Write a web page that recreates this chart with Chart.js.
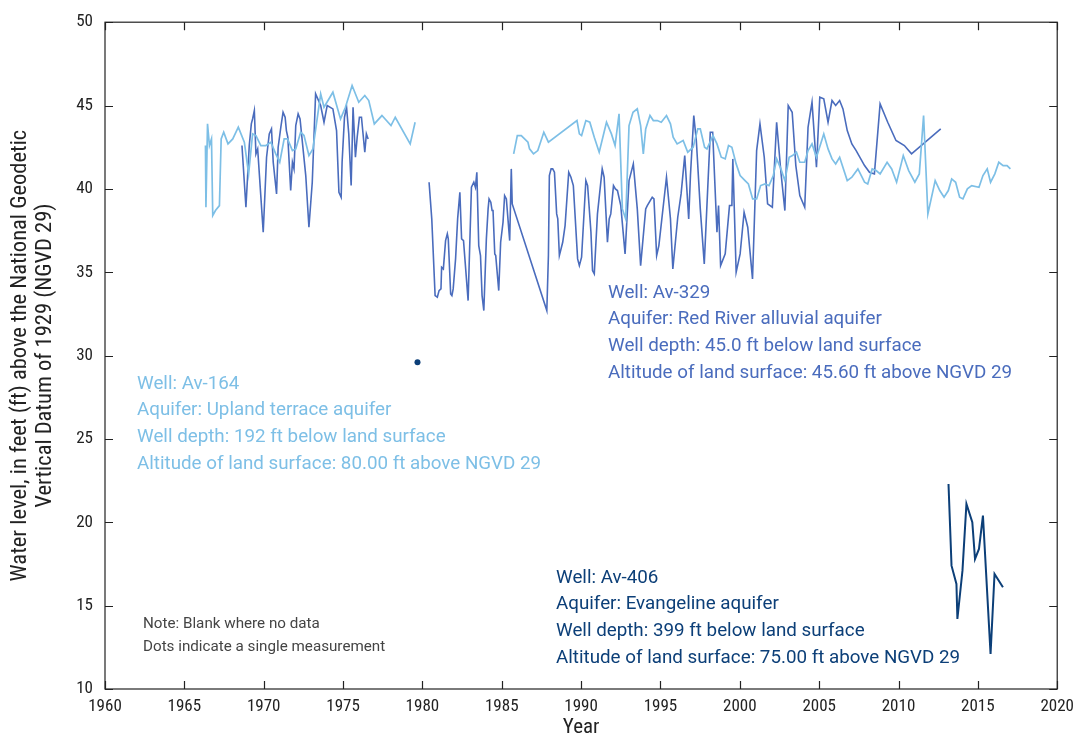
<!DOCTYPE html>
<html>
<head>
<meta charset="utf-8">
<script src="https://cdn.jsdelivr.net/npm/chart.js@4.4.1/dist/chart.umd.min.js"></script>
<style>
  html, body { margin: 0; padding: 0; background: #fff; }
  #wrap { width: 1082px; height: 740px; }
</style>
</head>
<body>
<div id="wrap"><canvas id="myChart" width="1082" height="740"></canvas></div>
<script>
// Well Av-164 (Upland terrace aquifer), null = gap in record
const av164Years = [
  1966.33, 1966.36, 1966.46, 1966.58, 1966.71, 1966.79, 1966.96, 1967.21, 1967.32, 1967.48,
  1967.75, 1968.05, 1968.40, 1968.78, 1969.05, 1969.30, 1969.51, 1969.82, 1970.14, 1970.45,
  1970.76, 1971.01, 1971.29, 1971.50, 1971.81, 1972.02, 1972.33, 1972.54, 1972.85, 1973.10,
  1973.59, 1973.80, 1974.36, 1974.84, 1975.15, 1975.57, 1975.99, 1976.37, 1976.62, 1976.97,
  1977.45, 1978.02, 1978.29, 1979.23, 1979.54,
  1982.0,
  1985.75, 1985.98, 1986.23, 1986.65, 1986.75, 1987.00, 1987.27, 1987.65, 1987.94, 1989.74,
  1989.89, 1990.03, 1990.30, 1990.55, 1990.83, 1991.14, 1991.60, 1991.91, 1992.14, 1992.39,
  1992.60, 1992.81, 1993.02, 1993.27, 1993.54, 1993.75, 1993.92, 1994.07, 1994.34, 1994.55,
  1994.80, 1995.05, 1995.38, 1995.63, 1995.80, 1996.05, 1996.43, 1996.72, 1997.06, 1997.35,
  1997.51, 1997.78, 1997.93, 1998.31, 1998.56, 1998.83, 1999.08, 1999.29, 1999.50, 1999.77,
  2000.02, 2000.33, 2000.54, 2000.81, 2001.06, 2001.31, 2001.59, 2001.84, 2002.11, 2002.32,
  2002.59, 2002.84, 2003.11, 2003.32, 2003.57, 2003.78, 2004.09, 2004.30, 2004.55, 2004.83,
  2005.29, 2005.56, 2005.81, 2006.04, 2006.29, 2006.77, 2007.06, 2007.44, 2007.86, 2008.06,
  2008.34, 2008.59, 2008.84, 2009.28, 2009.57, 2009.88, 2010.30, 2010.64, 2011.03, 2011.31,
  2011.58, 2011.85, 2012.31, 2012.60, 2012.87, 2013.14, 2013.35, 2013.60, 2013.85, 2014.06,
  2014.34, 2014.61, 2015.07, 2015.32, 2015.59, 2015.80, 2016.07, 2016.32, 2016.59, 2016.84,
  2017.05
];
const av164Levels = [
  42.6, 38.9, 43.9, 42.6, 43.0, 38.4, 38.7, 39.0, 43.0, 43.4,
  42.7, 43.0, 43.7, 42.8, 40.9, 43.3, 43.2, 42.6, 42.6, 42.8,
  42.1, 41.6, 43.0, 43.0, 42.3, 42.4, 43.4, 43.2, 42.0, 42.4,
  45.7, 44.9, 45.8, 44.2, 44.9, 46.2, 45.2, 45.6, 45.3, 43.9,
  44.4, 43.8, 44.3, 42.7, 44.0,
  null,
  42.1, 43.2, 43.2, 42.8, 42.4, 42.1, 42.3, 43.4, 42.8, 44.1,
  43.3, 43.2, 44.1, 44.0, 43.1, 42.2, 44.0, 43.3, 42.6, 44.5,
  38.8, 38.2, 43.8, 44.6, 44.8, 43.8, 42.1, 43.6, 44.4, 44.1,
  44.1, 44.0, 44.4, 43.9, 43.1, 42.7, 42.9, 42.2, 42.5, 43.6,
  43.6, 42.5, 42.4, 43.2, 42.7, 41.9, 41.8, 42.6, 42.5, 41.5,
  40.8, 40.5, 40.3, 39.4, 39.4, 40.2, 40.3, 40.2, 40.8, 41.8,
  41.2, 40.5, 41.9, 42.0, 42.2, 41.6, 41.6, 42.3, 42.7, 41.9,
  43.3, 42.4, 41.8, 41.5, 41.9, 40.5, 40.7, 41.2, 40.4, 40.3,
  41.2, 41.1, 40.9, 41.6, 41.2, 40.4, 42.0, 41.1, 40.4, 40.9,
  44.4, 38.5, 40.5, 39.9, 39.5, 39.9, 40.6, 40.4, 39.5, 39.4,
  40.0, 40.2, 40.1, 40.8, 41.2, 40.4, 40.9, 41.6, 41.4, 41.4,
  41.2
];

// Well Av-329 (Red River alluvial aquifer)
const av329Years = [
  1968.63, 1968.88, 1969.09, 1969.22, 1969.30, 1969.41, 1969.51, 1969.62, 1969.97, 1970.18,
  1970.35, 1970.49, 1970.60, 1970.81, 1970.91, 1971.08, 1971.22, 1971.35, 1971.43, 1971.52,
  1971.70, 1971.81, 1971.91, 1972.02, 1972.17, 1972.29, 1972.65, 1972.85, 1973.06, 1973.27,
  1973.59, 1973.80, 1974.00, 1974.36, 1974.59, 1974.74, 1974.88, 1974.94, 1975.09, 1975.22,
  1975.36, 1975.51, 1975.63, 1975.78, 1975.89, 1976.03, 1976.16, 1976.37, 1976.47, 1976.58,
  1978.0,
  1980.42, 1980.59, 1980.80, 1980.94, 1981.05, 1981.17, 1981.21, 1981.32, 1981.46, 1981.57,
  1981.63, 1981.78, 1981.86, 1981.94, 1982.09, 1982.22, 1982.36, 1982.47, 1982.59, 1982.88,
  1983.09, 1983.24, 1983.34, 1983.43, 1983.55, 1983.66, 1983.76, 1983.87, 1984.03, 1984.14,
  1984.20, 1984.31, 1984.39, 1984.45, 1984.56, 1984.62, 1984.81, 1984.93, 1985.08, 1985.18,
  1985.29, 1985.50, 1985.60, 1985.66, 1987.84, 1987.94, 1988.00, 1988.11, 1988.21, 1988.32,
  1988.46, 1988.53, 1988.63, 1988.84, 1988.99, 1989.22, 1989.36, 1989.51, 1989.78, 1989.89,
  1990.03, 1990.30, 1990.41, 1990.62, 1990.72, 1990.83, 1991.03, 1991.33, 1991.45, 1991.66,
  1991.77, 1991.87, 1992.04, 1992.16, 1992.29, 1992.50, 1992.77, 1993.02, 1993.29, 1993.54,
  1993.75, 1994.07, 1994.17, 1994.48, 1994.59, 1994.76, 1994.90, 1995.38, 1995.63, 1995.78,
  1996.09, 1996.30, 1996.53, 1996.78, 1996.89, 1997.10, 1997.26, 1997.51, 1997.76, 1998.14,
  1998.29, 1998.56, 1998.66, 1998.79, 1999.08, 1999.35, 1999.50, 1999.56, 1999.77, 2000.02,
  2000.27, 2000.50, 2000.80, 2001.06, 2001.27, 2001.54, 2001.75, 2002.05, 2002.32, 2002.59,
  2002.84, 2003.05, 2003.30, 2003.53, 2003.78, 2004.09, 2004.30, 2004.55, 2004.83, 2005.04,
  2005.29, 2005.56, 2005.81, 2006.04, 2006.29, 2006.50, 2006.77, 2007.06, 2007.33, 2007.86,
  2008.17, 2008.48, 2008.84, 2009.32, 2009.84, 2010.37, 2010.82, 2012.66
];
const av329Levels = [
  42.6, 38.9, 42.6, 43.9, 44.2, 44.7, 42.1, 42.4, 37.4, 41.9,
  43.3, 43.6, 41.6, 39.7, 42.5, 43.7, 44.6, 44.3, 43.5, 43.1,
  39.9, 41.6, 41.2, 43.8, 44.5, 44.2, 40.8, 37.7, 40.4, 45.7,
  45.0, 44.0, 45.0, 44.8, 43.5, 39.8, 39.5, 41.6, 44.3, 44.9,
  43.3, 40.2, 44.9, 41.9, 43.1, 44.3, 44.3, 42.2, 43.3, 43.0,
  null,
  40.4, 38.2, 33.6, 33.5, 33.9, 34.0, 35.3, 35.2, 36.9, 37.3,
  37.0, 33.7, 33.6, 34.0, 35.8, 38.2, 39.8, 37.0, 36.9, 33.3,
  40.1, 40.4, 40.1, 41.0, 36.6, 36.0, 33.6, 32.7, 37.0, 38.8,
  39.4, 39.2, 38.7, 38.7, 36.1, 36.0, 33.9, 36.8, 38.0, 39.6,
  39.4, 36.9, 41.2, 39.1, 32.7, 36.0, 40.8, 41.2, 41.2, 41.0,
  38.5, 38.2, 36.0, 36.8, 37.8, 41.0, 40.7, 40.2, 35.8, 35.4,
  35.9, 40.5, 40.2, 37.4, 35.1, 34.9, 38.5, 41.2, 40.7, 36.8,
  38.2, 38.5, 40.2, 40.0, 39.9, 39.0, 36.1, 40.5, 41.5, 38.8,
  35.4, 38.8, 39.0, 39.5, 39.4, 36.0, 36.6, 40.7, 38.2, 35.2,
  38.3, 39.7, 42.0, 38.2, 40.8, 44.4, 42.9, 38.8, 35.5, 43.4,
  43.4, 37.4, 39.0, 35.4, 36.1, 39.0, 39.0, 41.8, 35.0, 36.1,
  38.6, 37.7, 34.6, 42.3, 43.9, 41.9, 39.1, 38.9, 44.0, 41.0,
  38.7, 45.0, 44.6, 41.4, 39.6, 38.9, 43.7, 45.2, 41.3, 45.5,
  45.4, 44.0, 45.3, 45.0, 45.3, 44.8, 43.5, 42.7, 42.3, 41.4,
  41.0, 40.9, 45.1, 44.0, 42.9, 42.6, 42.1, 43.6
];

// Well Av-406 (Evangeline aquifer)
const av406Years = [
  2013.15, 2013.34, 2013.65, 2013.71, 2014.03, 2014.28, 2014.65, 2014.82, 2015.07, 2015.32,
  2015.80, 2016.05, 2016.58
];
const av406Levels = [
  22.3, 17.4, 16.3, 14.2, 17.1, 21.1, 20.0, 17.8, 18.4, 20.4,
  12.1, 16.9, 16.1
];

// single measurement (dot)
const singleYears = [1979.69];
const singleLevels = [29.6];

const xTicks = [1960, 1965, 1970, 1975, 1980, 1985, 1990, 1995, 2000, 2005, 2010, 2015, 2020];
const yTicks = [10, 15, 20, 25, 30, 35, 40, 45, 50];

const LIGHT = '#7dbfe6';
const MID = '#4a6cbd';
const DARK = '#0c3f78';
const NARROW = '"Liberation Sans Narrow", "Roboto Condensed", Roboto, sans-serif';
const TEXT = 'Roboto, "Liberation Sans", sans-serif';

function pts(xs, ys) {
  return xs.map((x, i) => ({ x: x, y: ys[i] }));
}

const notes = [
  { x: 137, y: 384, color: LIGHT, size: 18.8, lines: [
    'Well: Av-164',
    'Aquifer: Upland terrace aquifer',
    'Well depth: 192 ft below land surface',
    'Altitude of land surface: 80.00 ft above NGVD 29'] },
  { x: 608, y: 293, color: MID, size: 18.8, lines: [
    'Well: Av-329',
    'Aquifer: Red River alluvial aquifer',
    'Well depth: 45.0 ft below land surface',
    'Altitude of land surface: 45.60 ft above NGVD 29'] },
  { x: 556, y: 578, color: DARK, size: 18.8, lines: [
    'Well: Av-406',
    'Aquifer: Evangeline aquifer',
    'Well depth: 399 ft below land surface',
    'Altitude of land surface: 75.00 ft above NGVD 29'] },
  { x: 143, y: 624, color: '#444444', size: 15.2, gap: 23, lines: [
    'Note: Blank where no data',
    'Dots indicate a single measurement'] }
];

// box around the plot with inward tick marks on all four sides
const framePlugin = {
  id: 'frame',
  afterDatasetsDraw(chart) {
    const { ctx, chartArea: a, scales } = chart;
    const len = 8;
    ctx.save();
    ctx.strokeStyle = '#222';
    ctx.lineWidth = 1.2;
    ctx.strokeRect(a.left, a.top, a.right - a.left, a.bottom - a.top);
    ctx.beginPath();
    xTicks.forEach(v => {
      const px = Math.round(scales.x.getPixelForValue(v)) + 0.5;
      ctx.moveTo(px, a.bottom); ctx.lineTo(px, a.bottom - len);
      ctx.moveTo(px, a.top); ctx.lineTo(px, a.top + len);
    });
    yTicks.forEach(v => {
      const py = Math.round(scales.y.getPixelForValue(v)) + 0.5;
      ctx.moveTo(a.left, py); ctx.lineTo(a.left + len, py);
      ctx.moveTo(a.right, py); ctx.lineTo(a.right - len, py);
    });
    ctx.stroke();

    ctx.textAlign = 'left';
    ctx.textBaseline = 'middle';
    notes.forEach(n => {
      ctx.fillStyle = n.color;
      ctx.font = n.size + 'px ' + TEXT;
      n.lines.forEach((t, i) => ctx.fillText(t, n.x, n.y + i * (n.gap || 26.7)));
    });
    ctx.restore();
  }
};

new Chart(document.getElementById('myChart'), {
  type: 'line',
  data: {
    datasets: [
      { label: 'Av-164', data: pts(av164Years, av164Levels), borderColor: LIGHT, borderWidth: 1.7 },
      { label: 'Av-329', data: pts(av329Years, av329Levels), borderColor: MID, borderWidth: 1.6 },
      { label: 'Av-406', data: pts(av406Years, av406Levels), borderColor: DARK, borderWidth: 2 },
      { label: 'Single', data: pts(singleYears, singleLevels), showLine: false,
        pointRadius: 3, pointBackgroundColor: DARK, pointBorderWidth: 0 }
    ]
  },
  options: {
    responsive: false,
    animation: false,
    spanGaps: false,
    elements: { line: { tension: 0 }, point: { radius: 0 } },
    layout: { padding: { top: 18, right: 20, left: 0, bottom: 0 } },
    plugins: { legend: { display: false }, tooltip: { enabled: false } },
    scales: {
      x: {
        type: 'linear', min: 1960, max: 2020,
        afterBuildTicks: s => { s.ticks = xTicks.map(v => ({ value: v })); },
        afterFit: s => { s.height = 51; },
        grid: { display: false, drawTicks: false },
        border: { display: false },
        ticks: { padding: 8, maxRotation: 0, color: '#222',
          font: { family: NARROW, size: 17 }, callback: v => String(v) },
        title: { display: true, text: 'Year', color: '#222', padding: { top: 4, bottom: 0 },
          font: { family: NARROW, size: 21 } }
      },
      y: {
        min: 10, max: 50,
        afterBuildTicks: s => { s.ticks = yTicks.map(v => ({ value: v })); },
        afterFit: s => { s.width = 105; },
        grid: { display: false, drawTicks: false },
        border: { display: false },
        ticks: { padding: 12, color: '#222', font: { family: NARROW, size: 17 } },
        title: { display: true, color: '#222', padding: { top: 8, bottom: 0 },
          text: ['Water level, in feet (ft) above the National Geodetic',
                 'Vertical Datum of 1929 (NGVD 29)'],
          font: { family: NARROW, size: 22.5, lineHeight: 1.12 } }
      }
    }
  },
  plugins: [framePlugin]
});
</script>
</body>
</html>
